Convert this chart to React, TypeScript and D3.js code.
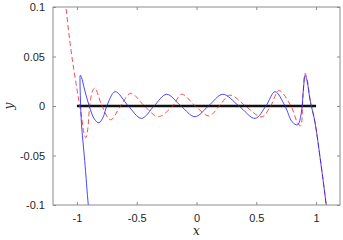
import React, { useRef, useEffect } from 'react';
import * as d3 from 'd3';

// tick values
const xTicks = [-1, -0.5, 0, 0.5, 1];
const yTicks = [-0.1, -0.05, 0, 0.05, 0.1];

// blue solid curve (drawn in path order)
const blueX = [-0.885, -0.905, -0.935, -0.962, -0.970, -0.974, -0.972, -0.962, -0.935, -0.897, -0.855, -0.816, -0.78, -0.75, -0.68, -0.57, -0.46, -0.355, -0.25, -0.13, -0.013, 0.10, 0.22, 0.355, 0.49, 0.58, 0.657, 0.74, 0.80, 0.845, 0.875, 0.895, 0.908, 0.925, 0.95, 0.99, 1.04, 1.084, 1.11];
const blueY = [-0.125, -0.1, -0.055, -0.018, 0.005, 0.025, 0.031, 0.029, 0.016, 0, -0.013, -0.017, -0.011, 0, 0.0145, 0, -0.0125, 0, 0.0118, 0, -0.0108, 0, 0.0118, 0, -0.0125, 0, 0.0145, 0, -0.016, -0.019, -0.008, 0.018, 0.031, 0.025, 0.006, -0.016, -0.058, -0.099, -0.125];

// red dashed curve
const redX = [-1.12, -1.092, -1.06, -1.025, -0.99, -0.96, -0.94, -0.925, -0.91, -0.893, -0.87, -0.85, -0.79, -0.72, -0.635, -0.55, -0.435, -0.32, -0.2, -0.124, -0.01, 0.106, 0.19, 0.28, 0.41, 0.545, 0.62, 0.69, 0.79, 0.845, 0.87, 0.89, 0.908, 0.925, 0.95, 0.99, 1.04, 1.084, 1.11];
const redY = [0.13, 0.1, 0.066, 0.036, 0.01, -0.012, -0.028, -0.032, -0.024, 0, 0.015, 0.018, 0, -0.014, 0, 0.0128, 0, -0.0108, 0, 0.0118, 0, -0.010, 0, 0.011, 0, -0.011, 0, 0.0155, 0, -0.017, -0.02, 0.01, 0.033, 0.027, 0.006, -0.016, -0.058, -0.099, -0.125];

// black reference line
const baseX = [-1, 1];
const baseY = [0, 0];

const W = 343;
const H = 240;
const margin = { top: 7, right: 3, bottom: 35, left: 53 };

const Chart = () => {
  const svgRef = useRef<SVGSVGElement>(null);

  useEffect(() => {
    if (!svgRef.current) return;
    const width = W - margin.left - margin.right;
    const height = H - margin.top - margin.bottom;

    const root = d3.select(svgRef.current);
    root.selectAll('*').remove();

    const x = d3.scaleLinear().domain([-1.2, 1.2]).range([0, width]);
    const y = d3.scaleLinear().domain([-0.1, 0.1]).range([height, 0]);

    root.append('defs').append('clipPath').attr('id', 'plotclip')
      .append('rect').attr('width', width).attr('height', height);

    const g = root.append('g').attr('transform', `translate(${margin.left},${margin.top})`);
    const font = '"Liberation Sans", Arial, sans-serif';
    const axisCol = '#8c8c8c';

    const line = d3.line<[number, number]>()
      .x(d => x(d[0]))
      .y(d => y(d[1]))
      .curve(d3.curveCatmullRom.alpha(0.5));

    const plot = g.append('g').attr('clip-path', 'url(#plotclip)');

    plot.append('path')
      .datum(baseX.map((v, i) => [v, baseY[i]] as [number, number]))
      .attr('d', d3.line<[number, number]>().x(d => x(d[0])).y(d => y(d[1])))
      .attr('stroke', '#111')
      .attr('stroke-width', 2.5)
      .attr('fill', 'none');

    plot.append('path')
      .datum(redX.map((v, i) => [v, redY[i]] as [number, number]))
      .attr('d', line)
      .attr('stroke', '#ff2020')
      .attr('stroke-width', 0.8)
      .attr('stroke-dasharray', '5,3')
      .attr('fill', 'none');

    plot.append('path')
      .datum(blueX.map((v, i) => [v, blueY[i]] as [number, number]))
      .attr('d', line)
      .attr('stroke', '#1a1aff')
      .attr('stroke-width', 0.8)
      .attr('fill', 'none');

    // box with inward ticks on all four sides
    const styleAxis = (sel: any) => {
      sel.select('.domain').remove();
      sel.selectAll('line').attr('stroke', axisCol);
      sel.selectAll('text').attr('fill', '#262626').style('font-family', font).style('font-size', '11px');
    };

    g.append('g').attr('transform', `translate(0,${height})`)
      .call(d3.axisBottom(x).tickValues(xTicks).tickSize(-3).tickPadding(9).tickFormat(d => String(d)))
      .call(styleAxis);
    g.append('g')
      .call(d3.axisTop(x).tickValues(xTicks).tickSize(-3).tickFormat(() => ''))
      .call(styleAxis);
    g.append('g')
      .call(d3.axisLeft(y).tickValues(yTicks).tickSize(-3).tickPadding(8).tickFormat(d => String(d)))
      .call(styleAxis);
    g.append('g').attr('transform', `translate(${width},0)`)
      .call(d3.axisRight(y).tickValues(yTicks).tickSize(-3).tickFormat(() => ''))
      .call(styleAxis);

    g.append('rect')
      .attr('x', 0).attr('y', 0).attr('width', width).attr('height', height)
      .attr('fill', 'none').attr('stroke', axisCol).attr('stroke-width', 1);

    g.append('text')
      .attr('x', width / 2)
      .attr('y', height + 30)
      .attr('text-anchor', 'middle')
      .style('font-family', '"DejaVu Serif", "Liberation Serif", serif')
      .style('font-style', 'italic')
      .style('font-size', '12px')
      .attr('fill', '#262626')
      .text('x');

    g.append('text')
      .attr('transform', `translate(${-40},${height / 2}) rotate(-90)`)
      .attr('text-anchor', 'middle')
      .style('font-family', '"DejaVu Serif", "Liberation Serif", serif')
      .style('font-style', 'italic')
      .style('font-size', '12px')
      .attr('fill', '#262626')
      .text('y');
  }, []);

  return <svg ref={svgRef} width={W} height={H} style={{ position: 'absolute', left: 0, top: 0, background: '#fff' }} />;
};

export default function App() {
  return <Chart />;
}
